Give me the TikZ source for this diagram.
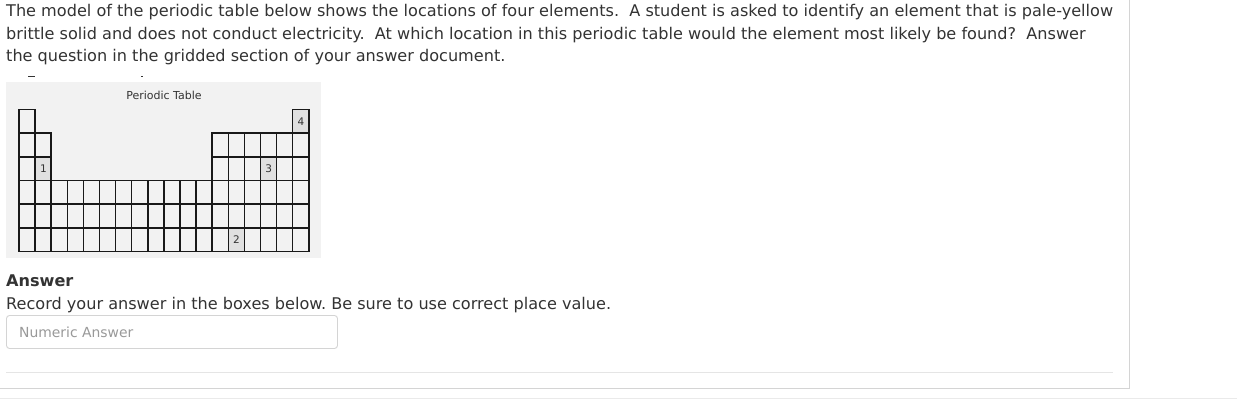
\documentclass[tikz,border=0pt]{standalone}
\usepackage{fontspec}
\setmainfont{DejaVu Sans}
\definecolor{txt}{HTML}{333333}
\definecolor{ph}{HTML}{999999}
\definecolor{imgbg}{HTML}{F2F2F2}
\definecolor{mark}{HTML}{E0E0E0}
\definecolor{rule}{HTML}{D4D4D4}
\begin{document}
\begin{tikzpicture}[x=1pt,y=-1pt,
  para/.style={anchor=base west,inner sep=0pt,text=txt,font=\fontsize{16.1}{19}\selectfont},
  cell/.style={draw=black!90,line width=1.5pt},
  numcell/.style={fill=mark,minimum width=16.1pt,minimum height=23.73pt,inner sep=0pt,anchor=north west,font=\fontsize{10.5}{12}\selectfont,text=txt},
  panelline/.style={draw=rule,line width=0.8pt}]
\useasboundingbox (0,0) rectangle (1237,401);
\fill[white] (0,0) rectangle (1237,401);
\frenchspacing
% question text
\node[para] (l1) at (6,16.7) {The model of the periodic table below shows the locations of four elements.\ \ A student is asked to identify an element that is pale-yellow};
\node[para] (l2) at (6,39.2) {brittle solid and does not conduct electricity.\ \ At which location in this periodic table would the element most likely be found?\ \ Answer};
\node[para] (l3) at (6,61.7) {the question in the gridded section of your answer document.};
% image background
\fill[imgbg] (6,82) rectangle (321,258);
\fill[txt] (28,76.5) rectangle (35,77.5);
\fill[txt] (141,76.5) rectangle (143,77.5);
\node[inner sep=0pt,text=txt,font=\fontsize{11}{12}\selectfont] (title) at (164,95) {Periodic Table};
% marked cells
\def\cw{16.1}\def\rh{23.73}
\node[numcell] (e1) at ({19+1*\cw},{109.3+2*\rh}) {1};
\node[numcell] (e2) at ({19+13*\cw},{109.3+5*\rh}) {2};
\node[numcell] (e3) at ({19+15*\cw},{109.3+2*\rh}) {3};
\node[numcell] (e4) at ({19+17*\cw},{109.3}) {4};
% grid
\foreach \r in {1,...,6}{
  \foreach \c in {1,...,18}{
    \pgfmathtruncatemacro\show{ (\r==1 && (\c==1 || \c==18)) || ((\r==2 || \r==3) && (\c<=2 || \c>=13)) || (\r>=4) ? 1 : 0}
    \ifnum\show=1
      \pgfmathsetmacro\xa{19+(\c-1)*\cw}
      \pgfmathsetmacro\ya{109.3+(\r-1)*\rh}
      \draw[cell] (\xa,\ya) rectangle ++(\cw,\rh);
    \fi
  }
}
% answer section
\node[para,font=\bfseries\fontsize{16.1}{19}\selectfont] (ans) at (6,286) {Answer};
\node[para] (rec) at (6,309) {Record your answer in the boxes below. Be sure to use correct place value.};
\draw[draw=rule,line width=0.9pt,rounded corners=3pt,fill=white] (6.5,315.5) rectangle (337.5,348.5);
\node[anchor=base west,inner sep=0pt,text=ph,font=\fontsize{13.9}{16}\selectfont] (numans) at (19,337) {Numeric Answer};
% panel lines
\draw[draw=rule!60,line width=0.8pt] (6,372) -- (1113,372);
\draw[panelline] (1129.5,0) -- (1129.5,388) -- (0,388);
\draw[draw=rule!50,line width=0.8pt] (0,398) -- (1237,398);
\end{tikzpicture}
\end{document}
